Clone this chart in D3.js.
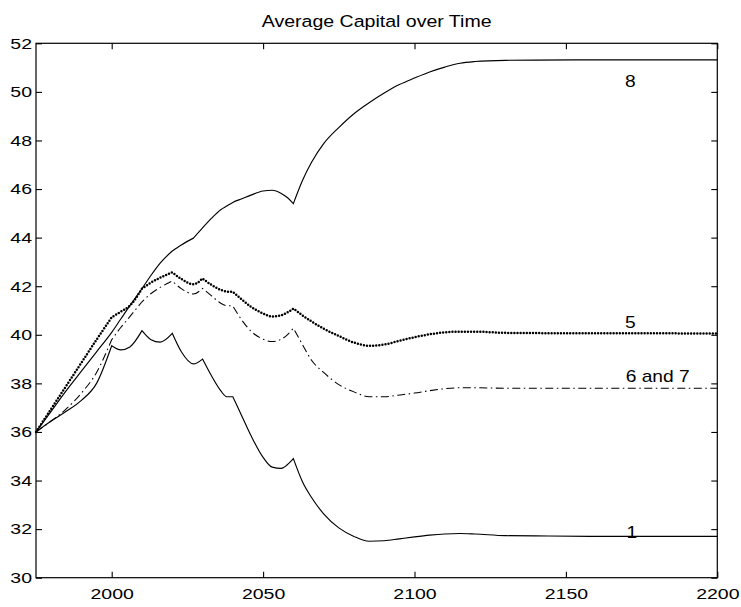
<!DOCTYPE html>
<html>
<head>
<meta charset="utf-8">
<script src="https://cdn.jsdelivr.net/npm/d3@7"></script>
<style>
  body { margin: 0; background: #fff; }
  svg { display: block; }
  text { font-family: "Liberation Sans", Arial, Helvetica, sans-serif; fill: #000; }
</style>
</head>
<body>
<svg id="chart" width="741" height="607"></svg>
<script>
// years shared by all four runs (uneven spacing, denser near the kinks)
const years = [1975, 1980, 1985, 1990, 1995, 2000, 2003, 2006, 2010, 2013, 2016, 2020,
  2023, 2027, 2030, 2033, 2036, 2038, 2040, 2043, 2046, 2050, 2053, 2056, 2058, 2060,
  2063, 2066, 2070, 2075, 2080, 2085, 2090, 2095, 2100, 2105, 2110, 2115, 2120, 2130,
  2140, 2160, 2180, 2200];

// run 8 (solid, top)
const cap8 = [36.0, 36.85, 37.7, 38.5, 39.3, 40.1, 40.65, 41.2, 41.9, 42.45, 42.95, 43.45,
  43.7, 43.98, 44.4, 44.8, 45.15, 45.3, 45.45, 45.6, 45.75, 45.92, 45.95, 45.82, 45.65, 45.4,
  46.35, 47.1, 47.87, 48.53, 49.1, 49.55, 49.95, 50.3, 50.57, 50.82, 51.02, 51.18, 51.25, 51.3,
  51.31, 51.32, 51.32, 51.32];

// run 5 (dotted)
const cap5 = [36.0, 36.95, 37.9, 38.85, 39.8, 40.72, 40.95, 41.2, 41.9, 42.15, 42.35, 42.57,
  42.3, 42.08, 42.32, 42.05, 41.85, 41.78, 41.77, 41.45, 41.15, 40.88, 40.75, 40.8, 40.92, 41.08,
  40.8, 40.55, 40.25, 39.95, 39.68, 39.55, 39.6, 39.75, 39.9, 40.02, 40.1, 40.13, 40.13, 40.08,
  40.07, 40.06, 40.06, 40.05];

// runs 6 and 7 (dash-dot)
const cap67 = [36.0, 36.45, 36.95, 37.6, 38.45, 39.8, 40.3, 40.75, 41.36, 41.7, 41.95, 42.21,
  41.9, 41.68, 41.91, 41.6, 41.3, 41.2, 41.19, 40.6, 40.15, 39.82, 39.72, 39.82, 40.0, 40.27,
  39.6, 38.95, 38.45, 37.95, 37.65, 37.45, 37.45, 37.52, 37.6, 37.7, 37.78, 37.82, 37.82, 37.8,
  37.8, 37.8, 37.8, 37.8];

// run 1 (solid, bottom)
const cap1 = [36.0, 36.45, 36.85, 37.3, 38.0, 39.55, 39.38, 39.5, 40.17, 39.8, 39.7, 40.06,
  39.3, 38.8, 39.0, 38.3, 37.7, 37.45, 37.45, 36.65, 35.85, 34.95, 34.55, 34.5, 34.65, 34.9,
  33.95, 33.3, 32.63, 32.05, 31.7, 31.5, 31.52, 31.6, 31.68, 31.75, 31.8, 31.82, 31.8, 31.73,
  31.72, 31.7, 31.7, 31.7];

// years where a run has a kink (policy changes), smooth in between
const kinks8 = [2010, 2020, 2027, 2030, 2060];
const kinksLow = [2000, 2010, 2020, 2030, 2040, 2060];

const xTicks = [2000, 2050, 2100, 2150, 2200];
const yTicks = [30, 32, 34, 36, 38, 40, 42, 44, 46, 48, 50, 52];

const runLabels = ["8", "5", "6 and 7", "1"];
const labelYears = [2171.3, 2171.3, 2180.3, 2171.8];
const labelValues = [50.21, 40.27, 38.07, 31.62];

const svg = d3.select("#chart");
const plotLeft = 36, plotRight = 717.3, plotTop = 43.3, plotBottom = 577.7;

const x = d3.scaleLinear().domain([1975, 2200]).range([plotLeft, plotRight]);
const y = d3.scaleLinear().domain([30, 52]).range([plotBottom, plotTop]);

const sx = 1.3; // the scanned glyphs are wide

// title
svg.append("text")
  .attr("transform", `translate(${(plotLeft + plotRight) / 2},27.3) scale(1.15,1)`)
  .attr("text-anchor", "middle")
  .style("font-size", "17px")
  .text("Average Capital over Time");

// axes, ticks pointing inward on all four sides
const gx = svg.append("g").attr("transform", `translate(0,${plotBottom})`)
  .call(d3.axisBottom(x).tickValues(xTicks).tickFormat(d3.format("d"))
    .tickSizeInner(-6).tickSizeOuter(0).tickPadding(10.5));
gx.selectAll(".tick text").attr("transform", `scale(${sx},1)`);

const gy = svg.append("g").attr("transform", `translate(${plotLeft},0)`)
  .call(d3.axisLeft(y).tickValues(yTicks).tickFormat(d3.format("d"))
    .tickSizeInner(-6).tickSizeOuter(0));
gy.selectAll(".tick text").attr("x", -4 / sx).attr("transform", `scale(${sx},1)`);

svg.append("g").attr("transform", `translate(0,${plotTop})`)
  .call(d3.axisTop(x).tickValues(xTicks).tickFormat("").tickSizeInner(-6).tickSizeOuter(0));
svg.append("g").attr("transform", `translate(${plotRight},0)`)
  .call(d3.axisRight(y).tickValues(yTicks).tickFormat("").tickSizeInner(-6).tickSizeOuter(0));

svg.selectAll(".domain").remove();
svg.selectAll(".tick line").attr("stroke", "#000").attr("stroke-width", 1.1);
svg.selectAll(".tick text").style("font-size", "15px").attr("fill", "#000")
  .style("font-family", '"Liberation Sans", Arial, sans-serif');

svg.append("rect")
  .attr("x", plotLeft).attr("y", plotTop)
  .attr("width", plotRight - plotLeft).attr("height", plotBottom - plotTop)
  .attr("fill", "none").attr("stroke", "#000").attr("stroke-width", 1.2);

// smooth each stretch between kinks, then stitch them into one path
const segLine = d3.line()
  .x(d => x(d[0]))
  .y(d => y(d[1]))
  .curve(d3.curveMonotoneX);

function kinkedPath(values, kinks) {
  const pts = years.map((yr, i) => [yr, values[i]]);
  const cuts = [years[0], ...kinks, years[years.length - 1]];
  let d = "";
  for (let k = 0; k < cuts.length - 1; k++) {
    const seg = pts.filter(p => p[0] >= cuts[k] && p[0] <= cuts[k + 1]);
    const part = segLine(seg);
    d += k === 0 ? part : part.replace(/^M/, "L");
  }
  return d;
}

svg.append("path").attr("d", kinkedPath(cap8, kinks8))
  .attr("fill", "none").attr("stroke", "#000").attr("stroke-width", 1.15);

svg.append("path").attr("d", kinkedPath(cap1, kinksLow))
  .attr("fill", "none").attr("stroke", "#000").attr("stroke-width", 1.15);

svg.append("path").attr("d", kinkedPath(cap67, kinksLow))
  .attr("fill", "none").attr("stroke", "#000").attr("stroke-width", 1.05)
  .attr("stroke-dasharray", "8,3.5,1.5,3.5");

svg.append("path").attr("d", kinkedPath(cap5, kinksLow))
  .attr("fill", "none").attr("stroke", "#000").attr("stroke-width", 2.5)
  .attr("stroke-linecap", "round")
  .attr("stroke-dasharray", "0,3.1");

runLabels.forEach((label, i) => {
  svg.append("text")
    .attr("transform", `translate(${x(labelYears[i])},${y(labelValues[i])}) scale(1.2,1)`)
    .attr("text-anchor", "middle")
    .style("font-size", "16px")
    .text(label);
});
</script>
</body>
</html>
